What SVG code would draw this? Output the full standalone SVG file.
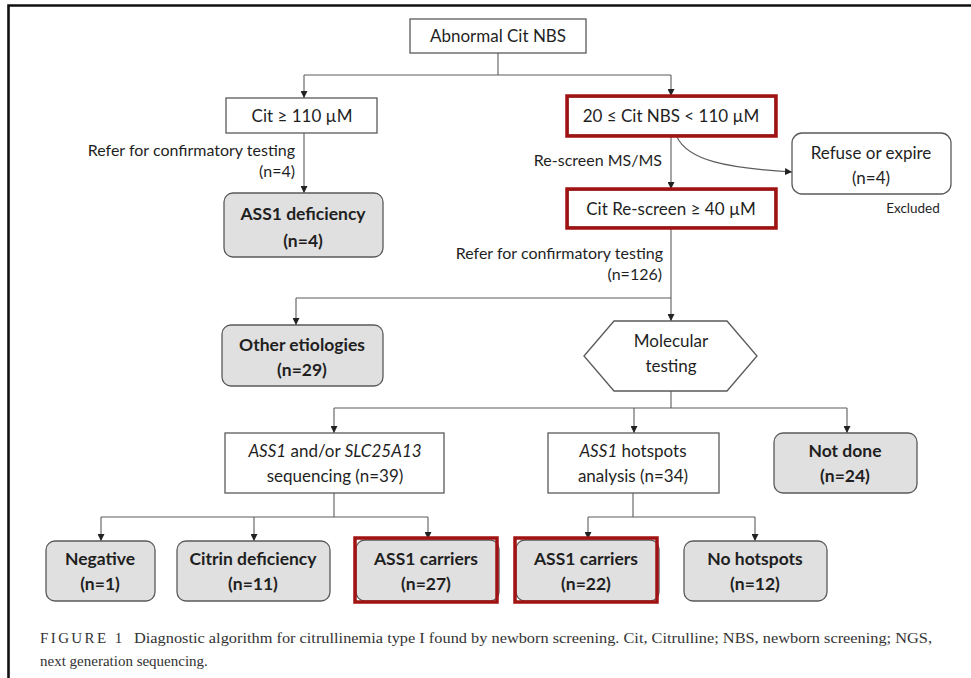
<svg xmlns="http://www.w3.org/2000/svg" width="971" height="678" viewBox="0 0 971 678">
  <style>
    .lbl { font-family: Lato, "Open Sans", "Liberation Sans", sans-serif; fill: #1f1f1f; }
    .box { fill: #ffffff; stroke: #5a5a5a; stroke-width: 1.3; }
    .res { fill: #e0e0e0; stroke: #5a5a5a; stroke-width: 1.3; }
    .hl { fill: none; stroke: #a11212; stroke-width: 3.5; }
    .t17 { font-size: 17px; text-anchor: middle; }
    .b17 { font-size: 17.5px; font-weight: bold; text-anchor: middle; }
    .e15 { font-size: 16px; text-anchor: end; }
    .conn { fill: none; stroke: #5c5c5c; stroke-width: 1.1; }
    .cap { font-family: "Liberation Serif", "DejaVu Serif", serif; font-size: 15px; fill: #333333; }
  </style>
  <defs>
    <marker id="arr" viewBox="0 0 8 8" refX="8" refY="4" markerWidth="7" markerHeight="7" markerUnits="userSpaceOnUse" orient="auto">
      <path d="M0,0 L8,4 L0,8 Z" fill="#222222"/>
    </marker>
  </defs>

  <rect width="971" height="678" fill="#ffffff"/>
  <!-- page frame -->
  <path d="M8.5,678 L8.5,5.5 L971,5.5" fill="none" stroke="#111111" stroke-width="2.6"/>

  <!-- connectors -->
  <g id="connectors">
    <path class="conn" d="M498,53 V75"/>
    <path class="conn" d="M304,75 H671"/>
    <path class="conn" d="M304,75 V98" marker-end="url(#arr)"/>
    <path class="conn" d="M671,75 V96" marker-end="url(#arr)"/>
    <path class="conn" d="M304,133 V193" marker-end="url(#arr)"/>
    <path class="conn" d="M671,136 V189" marker-end="url(#arr)"/>
    <path class="conn" d="M677,137 C688,160 725,168 792,172" stroke="#777777" marker-end="url(#arr)"/>
    <path class="conn" d="M671,228 V321" marker-end="url(#arr)"/>
    <path class="conn" d="M296,298 H671"/>
    <path class="conn" d="M296,298 V325" marker-end="url(#arr)"/>
    <path class="conn" d="M671,391 V408"/>
    <path class="conn" d="M334,408 H847"/>
    <path class="conn" d="M334,408 V433" marker-end="url(#arr)"/>
    <path class="conn" d="M634,408 V433" marker-end="url(#arr)"/>
    <path class="conn" d="M847,408 V433" marker-end="url(#arr)"/>
    <path class="conn" d="M334,493 V517"/>
    <path class="conn" d="M101,517 H428"/>
    <path class="conn" d="M101,517 V541" marker-end="url(#arr)"/>
    <path class="conn" d="M254,517 V541" marker-end="url(#arr)"/>
    <path class="conn" d="M428,517 V539" marker-end="url(#arr)"/>
    <path class="conn" d="M633,493 V517"/>
    <path class="conn" d="M588,517 H755"/>
    <path class="conn" d="M588,517 V539" marker-end="url(#arr)"/>
    <path class="conn" d="M755,517 V541" marker-end="url(#arr)"/>
  </g>

  <!-- edge labels -->
  <g id="edge-labels" class="lbl">
    <text class="e15" x="295" y="156">Refer for confirmatory testing</text>
    <text class="e15" x="295" y="177">(n=4)</text>
    <text class="e15" x="662" y="166">Re-screen MS/MS</text>
    <text class="e15" x="663" y="259">Refer for confirmatory testing</text>
    <text class="e15" x="662" y="280">(n=126)</text>
  </g>

  <g id="n-abnormal" class="lbl">
    <rect class="box" x="410" y="19" width="176" height="34"/>
    <text class="t17" x="498" y="42">Abnormal Cit NBS</text>
  </g>

  <g id="n-cit110" class="lbl">
    <rect class="box" x="226" y="98" width="151" height="35"/>
    <text class="t17" x="302" y="122">Cit ≥ 110 µM</text>
  </g>

  <g id="n-range" class="lbl">
    <rect class="box" x="568" y="97" width="207" height="38"/>
    <rect class="hl" x="567" y="96" width="209" height="40"/>
    <text class="t17" x="671" y="122">20 ≤ Cit NBS &lt; 110 µM</text>
  </g>

  <g id="n-rescreen" class="lbl">
    <rect class="box" x="568" y="190" width="207" height="37"/>
    <rect class="hl" x="567" y="189" width="209" height="39"/>
    <text class="t17" x="671" y="215">Cit Re-screen ≥ 40 µM</text>
  </g>

  <g id="n-refuse" class="lbl">
    <rect class="box" x="792" y="133" width="159" height="61" rx="10"/>
    <text class="t17" x="871" y="159">Refuse or expire</text>
    <text class="t17" x="871" y="184">(n=4)</text>
    <text x="913" y="213" font-size="13.5" text-anchor="middle">Excluded</text>
  </g>

  <g id="n-ass1def" class="lbl">
    <rect class="res" x="224" y="193" width="159" height="64" rx="9"/>
    <text class="b17" x="303" y="220">ASS1 deficiency</text>
    <text class="b17" x="303" y="247">(n=4)</text>
  </g>

  <g id="n-other" class="lbl">
    <rect class="res" x="222" y="325" width="161" height="61" rx="9"/>
    <text class="b17" x="302" y="351">Other etiologies</text>
    <text class="b17" x="302" y="376">(n=29)</text>
  </g>

  <g id="n-molecular" class="lbl">
    <polygon class="box" points="584,356 614,321 727,321 757,356 727,391 614,391"/>
    <text class="t17" x="671" y="347">Molecular</text>
    <text class="t17" x="671" y="372">testing</text>
  </g>

  <g id="n-seq" class="lbl">
    <rect class="box" x="225" y="433" width="219" height="60"/>
    <text class="t17" x="335" y="457"><tspan font-style="italic">ASS1</tspan> and/or <tspan font-style="italic">SLC25A13</tspan></text>
    <text class="t17" x="335" y="482">sequencing (n=39)</text>
  </g>

  <g id="n-hotspots" class="lbl">
    <rect class="box" x="548" y="433" width="171" height="60"/>
    <text class="t17" x="633" y="457"><tspan font-style="italic">ASS1</tspan> hotspots</text>
    <text class="t17" x="633" y="482">analysis (n=34)</text>
  </g>

  <g id="n-notdone" class="lbl">
    <rect class="res" x="774" y="433" width="143" height="60" rx="9"/>
    <text class="b17" x="845" y="457">Not done</text>
    <text class="b17" x="845" y="482">(n=24)</text>
  </g>

  <g id="n-negative" class="lbl">
    <rect class="res" x="46" y="541" width="109" height="60" rx="9"/>
    <text class="b17" x="100" y="565">Negative</text>
    <text class="b17" x="100" y="590">(n=1)</text>
  </g>

  <g id="n-citrin" class="lbl">
    <rect class="res" x="177" y="541" width="153" height="60" rx="9"/>
    <text class="b17" x="253" y="565">Citrin deficiency</text>
    <text class="b17" x="253" y="590">(n=11)</text>
  </g>

  <g id="n-carriers27" class="lbl">
    <rect class="res" x="356" y="540" width="143" height="61" rx="9"/>
    <rect class="hl" x="355" y="538" width="142" height="64"/>
    <text class="b17" x="426" y="565">ASS1 carriers</text>
    <text class="b17" x="426" y="590">(n=27)</text>
  </g>

  <g id="n-carriers22" class="lbl">
    <rect class="res" x="516" y="540" width="143" height="61" rx="9"/>
    <rect class="hl" x="515" y="538" width="142" height="64"/>
    <text class="b17" x="586" y="565">ASS1 carriers</text>
    <text class="b17" x="586" y="590">(n=22)</text>
  </g>

  <g id="n-nohotspots" class="lbl">
    <rect class="res" x="684" y="541" width="143" height="60" rx="9"/>
    <text class="b17" x="755" y="565">No hotspots</text>
    <text class="b17" x="755" y="590">(n=12)</text>
  </g>

  <!-- caption -->
  <g id="caption">
    <text class="cap" x="40" y="643" fill="#6e3a3a" letter-spacing="2.4" font-size="14.5">FIGURE 1</text>
    <text class="cap" x="134" y="643" textLength="798" lengthAdjust="spacingAndGlyphs">Diagnostic algorithm for citrullinemia type I found by newborn screening. Cit, Citrulline; NBS, newborn screening; NGS,</text>
    <text class="cap" x="40" y="666">next generation sequencing.</text>
  </g>
</svg>
